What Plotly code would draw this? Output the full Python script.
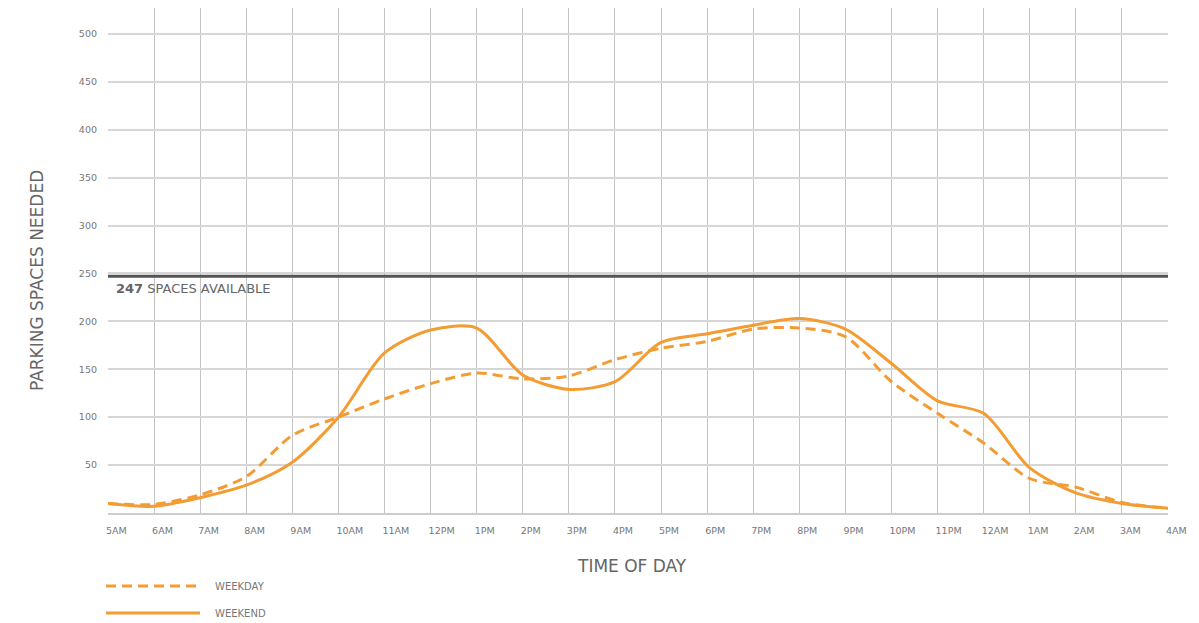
import plotly.graph_objects as go

hours = ["5AM", "6AM", "7AM", "8AM", "9AM", "10AM", "11AM", "12PM", "1PM", "2PM", "3PM", "4PM",
         "5PM", "6PM", "7PM", "8PM", "9PM", "10PM", "11PM", "12AM", "1AM", "2AM", "3AM", "4AM"]
weekday = [10, 9, 19, 38, 81, 100, 119, 135, 146, 140, 143, 160,
           172, 179, 192, 193, 184, 137, 104, 73, 36, 27, 11, 5]
weekend = [10, 7, 16, 29, 53, 100, 167, 191, 193, 144, 129, 137,
           178, 187, 196, 203, 192, 156, 117, 104, 47, 21, 10, 5]
capacity = 247
y_ticks = [50, 100, 150, 200, 250, 300, 350, 400, 450, 500]

ORANGE = "#F39C33"
GREY = "#666666"
FONT = "DejaVu Sans"

# page has an 8px body margin; figure is sized to fit the window
W, H = 1191, 615
L, R, T, B = 100, 31, 0, 110
PW, PH = W - L - R, H - T - B


def px_x(xw):
    return (xw - 8 - L) / PW


def px_y(yw):
    return (PH - (yw - 8 - T)) / PH


xs = list(range(len(hours)))

fig = go.Figure()
fig.add_trace(go.Scatter(x=xs, y=weekday, mode="lines", name="WEEKDAY",
                         line=dict(color=ORANGE, width=3, dash="10px,6px", shape="spline", smoothing=0.8)))
fig.add_trace(go.Scatter(x=xs, y=weekend, mode="lines", name="WEEKEND",
                         line=dict(color=ORANGE, width=3, shape="spline", smoothing=0.8)))

# capacity line
fig.add_shape(type="line", xref="x", yref="y", x0=xs[0], x1=xs[-1], y0=capacity, y1=capacity,
              line=dict(color="#555555", width=3))
fig.add_annotation(xref="x", yref="y", x=xs[0], y=capacity, xanchor="left", yanchor="top",
                   xshift=6, yshift=-3, showarrow=False,
                   text=f"<b>{capacity}</b> SPACES AVAILABLE",
                   font=dict(family=FONT, size=13, color=GREY))

# axis titles
fig.add_annotation(xref="paper", yref="paper", x=px_x(37), y=px_y(281), showarrow=False, textangle=-90,
                   text="PARKING SPACES NEEDED", font=dict(family=FONT, size=17, color=GREY),
                   xanchor="center", yanchor="middle")
fig.add_annotation(xref="paper", yref="paper", x=px_x(632), y=px_y(566), showarrow=False,
                   text="TIME OF DAY", font=dict(family=FONT, size=17, color=GREY),
                   xanchor="center", yanchor="middle")

# manual legend
legend_items = [("WEEKDAY", "10px,6px", 586), ("WEEKEND", "solid", 613)]
for name, dash, ypix in legend_items:
    yp = px_y(ypix)
    fig.add_shape(type="line", xref="paper", yref="paper",
                  x0=px_x(106), x1=px_x(200), y0=yp, y1=yp,
                  line=dict(color=ORANGE, width=3, dash=dash))
    fig.add_annotation(xref="paper", yref="paper", x=px_x(213), y=yp,
                       xanchor="left", yanchor="middle", showarrow=False, text=name,
                       font=dict(family=FONT, size=10, color="#777777"))

fig.update_layout(
    width=W, height=H,
    margin=dict(l=L, r=R, t=T, b=B),
    plot_bgcolor="white", paper_bgcolor="white",
    showlegend=False,
    font=dict(family=FONT, color="#777777"),
)
fig.update_xaxes(range=[0, 23], tickmode="array", tickvals=xs, ticktext=hours,
                 ticklabelposition="outside right", ticks="", ticklabelstandoff=8,
                 ticklabelshift=-3,
                 showgrid=True, gridcolor="#c4c4c4", gridwidth=1,
                 showline=True, linecolor="#cccccc", linewidth=2,
                 zeroline=False, tickfont=dict(family=FONT, size=9.5, color="#777777"))
fig.update_yaxes(range=[0, 527], tickmode="array", tickvals=y_ticks,
                 showgrid=True, gridcolor="#d6d6d6", gridwidth=1.5,
                 zeroline=False, showline=False, ticks="", ticklabelstandoff=10,
                 tickfont=dict(family=FONT, size=9.5, color="#777777"))

fig.write_html("out.html")
